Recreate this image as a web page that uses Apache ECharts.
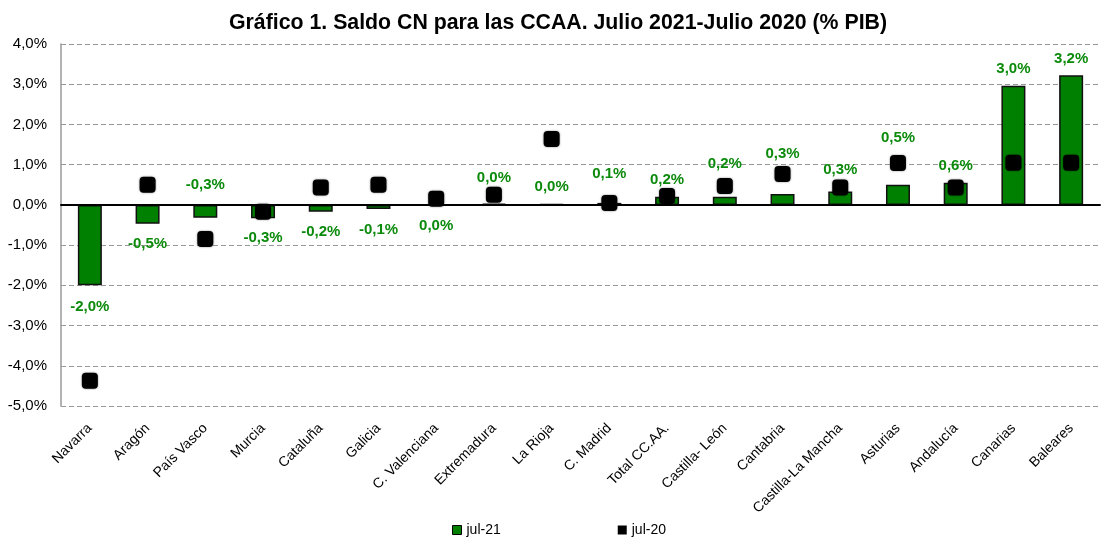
<!DOCTYPE html>
<html>
<head>
    <meta charset="UTF-8">
    <title>Saldo CN CCAA</title>
    <script src="https://cdn.jsdelivr.net/npm/echarts@6/dist/echarts.min.js"></script>
    <style>
        html, body { margin: 0; padding: 0; background: #fff; }
        #chart { width: 1102px; height: 539px; }
    </style>
</head>
<body>
    <div id="chart"></div>
    <script>
        // datos
        var regiones = ['Navarra', 'Aragón', 'País Vasco', 'Murcia', 'Cataluña', 'Galicia', 'C. Valenciana',
            'Extremadura', 'La Rioja', 'C. Madrid', 'Total CC.AA.', 'Castilla- León', 'Cantabria',
            'Castilla-La Mancha', 'Asturias', 'Andalucía', 'Canarias', 'Baleares'];
        var jul21 = [-2.0, -0.47, -0.32, -0.33, -0.17, -0.1, -0.02, 0.03, 0.02, 0.05, 0.2, 0.2, 0.27, 0.33, 0.5, 0.55, 2.96, 3.22];
        var jul20 = [-4.37, 0.5, -0.85, -0.17, 0.43, 0.5, 0.15, 0.25, 1.64, 0.05, 0.22, 0.47, 0.77, 0.43, 1.04, 0.43, 1.05, 1.05];
        var yTicks = [-5, -4, -3, -2, -1, 0, 1, 2, 3, 4];

        // desplazamiento vertical de etiquetas (px), como en el original
        var labelShift = [2, 1, -52, 0, 1, 1, 0, -6, 3, -10, 3, -13, -21, -2, -27, 3, 3, 3];

        function pct(v) {
            var s = v.toFixed(1);
            if (s === '-0.0') s = '0.0';
            return s.replace('.', ',') + '%';
        }

        var barData = jul21.map(function (v, i) {
            return {
                value: v,
                label: {
                    position: v < 0 ? 'bottom' : 'top',
                    distance: 12,
                    offset: [0, labelShift[i]]
                }
            };
        });

        var font = 'Liberation Sans, Arial';
        var chart = echarts.init(document.getElementById('chart'));
        var option = {
            animation: false,
            title: {
                text: 'Gráfico 1. Saldo CN para las CCAA. Julio 2021-Julio 2020 (% PIB)',
                left: 553,
                textAlign: 'center',
                top: 8,
                textStyle: { fontFamily: font, fontSize: 21.3, fontWeight: 'bold', color: '#000' }
            },
            legend: {
                top: 518,
                left: 447,
                itemGap: 117,
                itemWidth: 9,
                itemHeight: 9,
                textStyle: { fontFamily: font, fontSize: 14, color: '#000' },
                data: [
                    { name: 'jul-21', icon: 'rect', itemStyle: { color: '#008000', borderColor: '#000', borderWidth: 1 } },
                    { name: 'jul-20', icon: 'rect', itemStyle: { color: '#000', opacity: 1 } }
                ]
            },
            grid: { left: 61, right: 2, top: 44, bottom: 133 },
            xAxis: {
                type: 'category',
                data: regiones,
                axisLine: { onZero: true, lineStyle: { color: '#000', width: 2 } },
                axisTick: { show: false },
                axisLabel: {
                    interval: 0,
                    rotate: 45,
                    margin: 20,
                    fontFamily: font,
                    fontSize: 14,
                    color: '#000'
                },
                z: 5
            },
            yAxis: {
                type: 'value',
                min: yTicks[0],
                max: yTicks[yTicks.length - 1],
                interval: 1,
                axisLine: { show: true, lineStyle: { color: '#999', width: 1.5 } },
                axisTick: { show: false },
                axisLabel: {
                    margin: 14,
                    fontFamily: font,
                    fontSize: 15,
                    color: '#000',
                    formatter: function (v) { return pct(v); }
                },
                splitLine: { lineStyle: { color: '#999', type: [5, 3], width: 1 } }
            },
            series: [
                {
                    name: 'jul-21',
                    type: 'bar',
                    barWidth: 24,
                    data: barData,
                    itemStyle: { color: '#008000', borderColor: '#111', borderWidth: 1.5 },
                    label: {
                        show: true,
                        fontFamily: font,
                        fontSize: 15,
                        fontWeight: 'bold',
                        color: '#0b8a0b',
                        formatter: function (p) { return pct(p.value); }
                    },
                    z: 2
                },
                {
                    name: 'jul-20',
                    type: 'scatter',
                    symbol: 'roundRect',
                    symbolSize: 16,
                    data: jul20,
                    itemStyle: {
                        color: '#000',
                        opacity: 1,
                        shadowColor: 'rgba(0,0,0,0.5)',
                        shadowBlur: 2
                    },
                    z: 6
                }
            ]
        };
        chart.setOption(option);
    </script>
</body>
</html>
